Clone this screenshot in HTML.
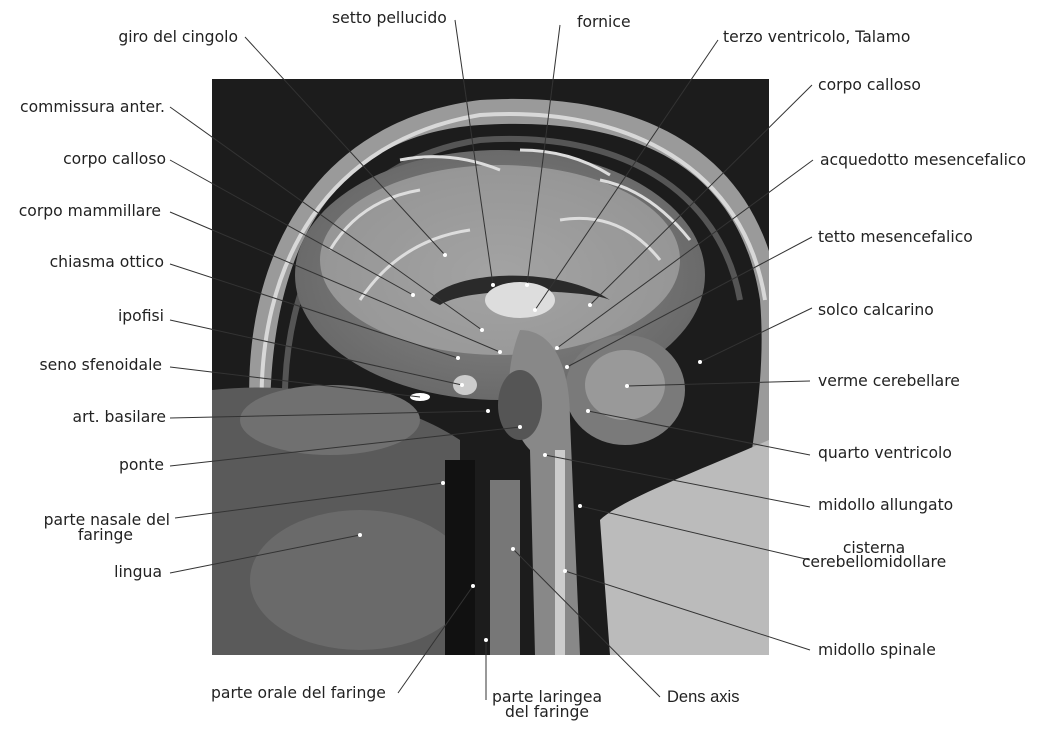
<!DOCTYPE html>
<html><head><meta charset="utf-8"><style>
html,body{margin:0;padding:0;background:#fff;}
svg{display:block;}
text{font-family:"DejaVu Sans","Liberation Sans",sans-serif;font-size:15.6px;fill:#222;}
</style></head><body>
<svg width="1041" height="733" viewBox="0 0 1041 733" xmlns="http://www.w3.org/2000/svg">
<defs>
<clipPath id="c"><rect x="212" y="79" width="557" height="576"/></clipPath>
<radialGradient id="br" cx="0.5" cy="0.5" r="0.5"><stop offset="0" stop-color="#8a8a8a"/><stop offset="1" stop-color="#6a6a6a"/></radialGradient>
</defs>
<rect x="212" y="79" width="557" height="576" fill="#1c1c1c"/>
<g clip-path="url(#c)">
<path d="M250 420 C240 250 320 120 480 100 C640 90 760 150 780 300 L780 655 L740 655 C730 500 770 420 760 300 C740 170 640 115 480 125 C330 135 270 250 270 420 Z" fill="#9a9a9a"/>
<path d="M262 420 C255 260 330 140 480 115 C630 105 745 170 765 300" fill="none" stroke="#d8d8d8" stroke-width="4"/>
<path d="M285 420 C280 270 345 160 480 140 C620 130 720 190 740 300" fill="none" stroke="#555" stroke-width="6"/>
<ellipse cx="500" cy="275" rx="205" ry="125" fill="url(#br)"/>
<ellipse cx="500" cy="260" rx="180" ry="95" fill="#b8b8b8" opacity="0.55"/>
<path d="M330 250 Q360 200 420 190 M360 300 Q400 240 470 230 M560 220 Q620 210 660 260 M600 180 Q650 190 690 240 M400 160 Q450 150 500 170 M520 150 Q570 150 610 175" stroke="#ddd" stroke-width="3" fill="none"/>
<path d="M430 300 C450 270 560 265 610 300 C590 290 470 285 440 305 Z" fill="#2a2a2a"/>
<ellipse cx="520" cy="300" rx="35" ry="18" fill="#ddd"/>
<ellipse cx="625" cy="390" rx="60" ry="55" fill="#7a7a7a"/>
<ellipse cx="625" cy="385" rx="40" ry="35" fill="#999"/>
<path d="M520 330 C550 330 570 360 570 420 L580 655 L535 655 L530 450 C510 430 500 380 520 330 Z" fill="#888"/>
<ellipse cx="520" cy="405" rx="22" ry="35" fill="#555"/>
<path d="M560 450 L560 655" stroke="#ccc" stroke-width="10"/>
<path d="M212 390 C300 380 400 400 460 440 L460 655 L212 655 Z" fill="#5a5a5a"/>
<ellipse cx="330" cy="420" rx="90" ry="35" fill="#707070"/>
<ellipse cx="360" cy="580" rx="110" ry="70" fill="#6a6a6a"/>
<rect x="445" y="460" width="30" height="195" fill="#111"/>
<rect x="490" y="480" width="30" height="175" fill="#777"/>
<path d="M600 520 C620 500 700 470 769 440 L769 655 L610 655 Z" fill="#bbb"/>
<ellipse cx="465" cy="385" rx="12" ry="10" fill="#ccc"/>
<ellipse cx="420" cy="397" rx="10" ry="4" fill="#fff"/>
</g>
<g stroke="#333" stroke-width="1" fill="none">
<line x1="245" y1="37" x2="445" y2="255"/>
<line x1="170" y1="107" x2="482" y2="330"/>
<line x1="170" y1="160" x2="413" y2="295"/>
<line x1="170" y1="212" x2="500" y2="352"/>
<line x1="170" y1="264" x2="458" y2="358"/>
<line x1="170" y1="320" x2="462" y2="385"/>
<line x1="170" y1="367" x2="420" y2="397"/>
<line x1="170" y1="418" x2="488" y2="411"/>
<line x1="170" y1="466" x2="520" y2="427"/>
<line x1="175" y1="518" x2="443" y2="483"/>
<line x1="170" y1="573" x2="360" y2="535"/>
<line x1="455" y1="20" x2="493" y2="285"/>
<line x1="560" y1="25" x2="527" y2="285"/>
<line x1="718" y1="40" x2="535" y2="310"/>
<line x1="812" y1="85" x2="590" y2="305"/>
<line x1="813" y1="160" x2="557" y2="348"/>
<line x1="812" y1="237" x2="567" y2="367"/>
<line x1="812" y1="308" x2="700" y2="362"/>
<line x1="810" y1="381" x2="627" y2="386"/>
<line x1="810" y1="455" x2="588" y2="411"/>
<line x1="810" y1="507" x2="545" y2="455"/>
<line x1="810" y1="560" x2="580" y2="506"/>
<line x1="810" y1="650" x2="565" y2="571"/>
<line x1="398" y1="693" x2="473" y2="586"/>
<line x1="486" y1="700" x2="486" y2="640"/>
<line x1="660" y1="697" x2="513" y2="549"/>
</g>
<g text-anchor="end">
<text x="238" y="42">giro del cingolo</text>
<text x="165" y="112">commissura anter.</text>
<text x="166" y="164">corpo calloso</text>
<text x="161" y="216">corpo mammillare</text>
<text x="164" y="267">chiasma ottico</text>
<text x="164" y="321">ipofisi</text>
<text x="162" y="370">seno sfenoidale</text>
<text x="166" y="422">art. basilare</text>
<text x="164" y="470">ponte</text>
<text x="170" y="525">parte nasale del</text>
<text x="133" y="540">faringe</text>
<text x="162" y="577">lingua</text>
</g>
<text x="332" y="23">setto pellucido</text>
<text x="577" y="27">fornice</text>
<text x="723" y="42">terzo ventricolo, Talamo</text>
<text x="818" y="90">corpo calloso</text>
<text x="820" y="165">acquedotto mesencefalico</text>
<text x="818" y="242">tetto mesencefalico</text>
<text x="818" y="315">solco calcarino</text>
<text x="818" y="386">verme cerebellare</text>
<text x="818" y="458">quarto ventricolo</text>
<text x="818" y="510">midollo allungato</text>
<text x="874" y="553" text-anchor="middle">cisterna</text>
<text x="874" y="567" text-anchor="middle">cerebellomidollare</text>
<text x="818" y="655">midollo spinale</text>
<text x="211" y="698">parte orale del faringe</text>
<text x="547" y="702" text-anchor="middle">parte laringea</text>
<text x="547" y="717" text-anchor="middle">del faringe</text>
<text x="667" y="702" style="font-family:'Liberation Sans',sans-serif;font-size:16.5px">Dens axis</text>
<g fill="#fff">
<circle cx="445" cy="255" r="2"/><circle cx="482" cy="330" r="2"/><circle cx="413" cy="295" r="2"/>
<circle cx="500" cy="352" r="2"/><circle cx="458" cy="358" r="2"/><circle cx="462" cy="385" r="2"/>
<circle cx="488" cy="411" r="2"/><circle cx="520" cy="427" r="2"/><circle cx="443" cy="483" r="2"/>
<circle cx="360" cy="535" r="2"/><circle cx="493" cy="285" r="2"/><circle cx="527" cy="285" r="2"/>
<circle cx="535" cy="310" r="2"/><circle cx="590" cy="305" r="2"/><circle cx="557" cy="348" r="2"/>
<circle cx="567" cy="367" r="2"/><circle cx="700" cy="362" r="2"/><circle cx="627" cy="386" r="2"/>
<circle cx="588" cy="411" r="2"/><circle cx="545" cy="455" r="2"/><circle cx="580" cy="506" r="2"/>
<circle cx="565" cy="571" r="2"/><circle cx="473" cy="586" r="2"/><circle cx="486" cy="640" r="2"/>
<circle cx="513" cy="549" r="2"/>
</g>
</svg>
</body></html>
